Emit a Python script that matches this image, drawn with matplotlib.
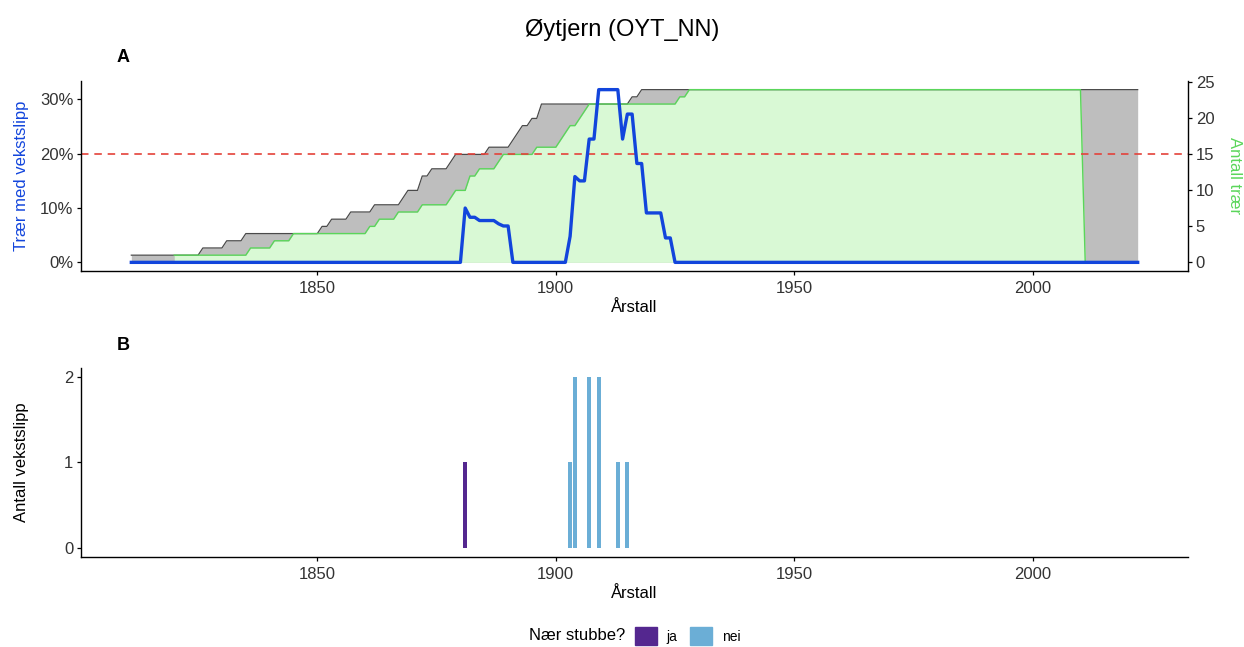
import matplotlib
matplotlib.use("Agg")
import matplotlib.pyplot as plt
from matplotlib.patches import Patch
from matplotlib.ticker import FuncFormatter
import numpy as np

plt.rcParams['font.family'] = ['Liberation Sans', 'DejaVu Sans']

# total number of trees per year (polyline vertices)
tot_years = [1811, 1825, 1826, 1830, 1831, 1834, 1835, 1850, 1851, 1852, 1853, 1856,
             1857, 1861, 1862, 1867, 1868, 1869, 1871, 1872, 1873, 1874, 1877, 1878,
             1879, 1885, 1886, 1890, 1891, 1892, 1893, 1894, 1895, 1896, 1897, 1915,
             1916, 1917, 1918, 2022]
tot_trees = [1, 1, 2, 2, 3, 3, 4, 4, 5, 5, 6, 6,
             7, 7, 8, 8, 9, 10, 10, 12, 12, 13, 13, 14,
             15, 15, 16, 16, 17, 18, 19, 19, 20, 20, 22, 22,
             23, 23, 24, 24]

# trees that can be tested for release
ok_years = [1820, 1835, 1836, 1840, 1841, 1844, 1845, 1860, 1861, 1862, 1863, 1866,
            1867, 1871, 1872, 1877, 1878, 1879, 1881, 1882, 1883, 1884, 1887, 1888,
            1889, 1895, 1896, 1900, 1901, 1902, 1903, 1904, 1905, 1906, 1907, 1925,
            1926, 1927, 1928, 2010, 2011]
ok_trees = [1, 1, 2, 2, 3, 3, 4, 4, 5, 5, 6, 6,
            7, 7, 8, 8, 9, 10, 10, 12, 12, 13, 13, 14,
            15, 15, 16, 16, 17, 18, 19, 19, 20, 21, 22, 22,
            23, 23, 24, 24, 0]

# share of trees in a release period (%)
pct_years = [1811, 1880, 1881, 1882, 1883, 1884, 1887, 1888, 1889, 1890, 1891, 1902,
             1903, 1904, 1905, 1906, 1907, 1908, 1909, 1913, 1914, 1915, 1916, 1917,
             1918, 1919, 1922, 1923, 1924, 1925, 2022]
pct_release = [0, 0, 10.0, 8.3, 8.3, 7.7, 7.7, 7.1, 6.7, 6.7, 0, 0,
               4.8, 15.8, 15.0, 15.0, 22.7, 22.7, 31.8, 31.8, 22.7, 27.3, 27.3, 18.2,
               18.2, 9.1, 9.1, 4.5, 4.5, 0, 0]

threshold = 20

# releases per year, split by closeness to a stump
rel_years = [1881, 1903, 1904, 1907, 1909, 1913, 1915]
rel_counts = [1, 1, 2, 2, 2, 1, 1]
rel_stump = ['ja', 'nei', 'nei', 'nei', 'nei', 'nei', 'nei']

stump_colors = {'ja': '#54278f', 'nei': '#6baed6'}
blue = '#1245dc'
green = '#5ad65a'

scale = max(tot_trees) / max(pct_release)
ymax = max(pct_release)
ylim = (-0.05 * ymax, 1.05 * ymax)
xlim = (1811 - 0.05 * 211, 2022 + 0.05 * 211)

W, H = 1244, 647
fig = plt.figure(figsize=(W / 100, H / 100), dpi=100)
ax = fig.add_axes([81 / W, 1 - 271 / H, 1107 / W, 190 / H])
axb = fig.add_axes([81 / W, 1 - 557 / H, 1107 / W, 189 / H])
ylab_x = (29 - 81) / 1107


def style_axis(a):
    for s in ['top', 'right']:
        a.spines[s].set_visible(False)
    for s in ['left', 'bottom']:
        a.spines[s].set_linewidth(1.0)
    a.tick_params(labelsize=12, labelcolor='#333333', length=3, width=0.9, pad=2.5)
    a.tick_params(axis='x', pad=4)
    a.set_xlim(*xlim)
    a.set_xticks([1850, 1900, 1950, 2000])
    a.set_xlabel('Årstall', fontsize=12, labelpad=3)


# panel A
tot_pct = np.array(tot_trees) / scale
ok_pct = np.array(ok_trees) / scale
ax.fill_between(tot_years, 0, tot_pct, color='#bebebe', lw=0)
ax.plot(tot_years, tot_pct, color='#4a4a4a', lw=0.9)
ax.fill_between(ok_years, 0, ok_pct, color='#d9f9d5', lw=0)
ax.plot(ok_years, ok_pct, color=green, lw=1.0)
ax.axhline(threshold, color='#e4423a', lw=1.2, dashes=(4.5, 3.5))
ax.plot(pct_years, pct_release, color=blue, lw=2.4, solid_joinstyle='round')
style_axis(ax)
ax.set_ylim(*ylim)
ax.set_yticks([0, 10, 20, 30])
ax.yaxis.set_major_formatter(FuncFormatter(lambda v, p: f'{v:.0f}%'))
ax.set_ylabel('Trær med vekstslipp', fontsize=12, color=blue)
ax.yaxis.set_label_coords(ylab_x, 0.5)

ax2 = ax.twinx()
ax2.set_position(ax.get_position())
ax2.set_ylim(ylim[0] * scale, ylim[1] * scale)
ax2.set_yticks([0, 5, 10, 15, 20, 25])
for s in ['top', 'left', 'bottom']:
    ax2.spines[s].set_visible(False)
ax2.spines['right'].set_linewidth(1.0)
ax2.tick_params(labelsize=12, labelcolor='#333333', length=3, width=0.9, pad=2.5)
ax2.set_ylabel('Antall trær', fontsize=12, color=green, rotation=270, va='center')
ax2.yaxis.set_label_coords((1235 - 81) / 1107, 0.5)

# panel B
for yr, cnt, st in zip(rel_years, rel_counts, rel_stump):
    axb.bar(yr, cnt, width=0.9, color=stump_colors[st], lw=0)
style_axis(axb)
axb.set_ylim(-0.1, 2.1)
axb.set_yticks([0, 1, 2])
axb.set_ylabel('Antall vekstslipp', fontsize=12)
axb.yaxis.set_label_coords(ylab_x, 0.5)

fig.text(0.5, 1 - 30 / H, 'Øytjern (OYT_NN)', ha='center', va='center', fontsize=17)
fig.text(117 / W, 1 - 58 / H, 'A', fontsize=13, fontweight='bold', va='center')
fig.text(117 / W, 1 - 346 / H, 'B', fontsize=13, fontweight='bold', va='center')

# legend
fig.text(625 / W, 1 - 636 / H, 'Nær stubbe?', ha='right', va='center', fontsize=12)
handles = [Patch(color=stump_colors[k], label=k) for k in ['ja', 'nei']]
fig.legend(handles=handles, loc='center left', bbox_to_anchor=(629 / W, 1 - 636 / H),
           ncol=2, frameon=False, fontsize=10, handlelength=1.6, handleheight=1.6,
           handletextpad=0.7, columnspacing=0.9, borderaxespad=0)

fig.savefig('out.png', dpi=100)
